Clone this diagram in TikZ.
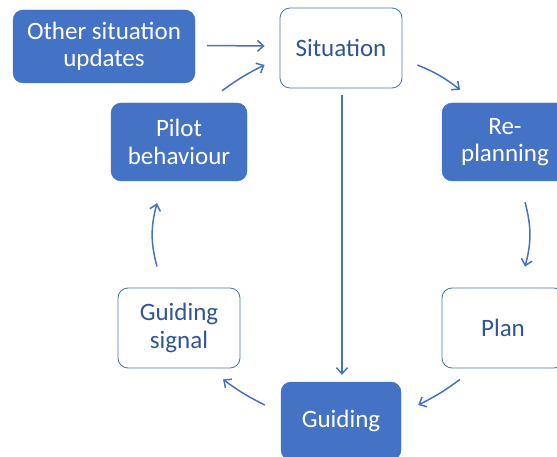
\documentclass[tikz,border=0pt]{standalone}
\usepackage{fontspec}
\setmainfont{Carlito}
\usetikzlibrary{arrows.meta,calc}
\definecolor{mblue}{HTML}{4472C4}
\definecolor{dblue}{HTML}{2F5597}
\tikzset{
  base/.style={rounded corners=10pt, align=center, font=\fontsize{25}{27.5}\selectfont, inner sep=0pt},
  filled/.style={base, fill=mblue, draw=mblue, text=white},
  outlined/.style={base, fill=white, draw=mblue, line width=0.8pt, text=dblue},
  arr/.style={draw=mblue, line width=1.5pt, -{Straight Barb[length=6pt,width=11pt]}}
}
\begin{document}
\begin{tikzpicture}[x=1pt,y=-1pt]
\useasboundingbox (0,0) rectangle (557,457);
\clip (0,0) rectangle (557,457);
\node[filled, minimum width=182pt, minimum height=73pt] (other) at (104,46.5) {Other situation\\updates};
\node[outlined, minimum width=122pt, minimum height=80pt] (sit) at (341,48) {Situation};
\node[filled, minimum width=136pt, minimum height=78pt] (pilot) at (179,142) {Pilot\\behaviour};
\node[filled, minimum width=126pt, minimum height=78pt] (rep) at (505,142) {Re-\\planning};
\node[outlined, minimum width=122pt, minimum height=80pt] (gs) at (179,328) {Guiding\\signal};
\node[outlined, minimum width=122pt, minimum height=80pt] (plan) at (503,328) {Plan};
\node[filled, minimum width=120pt, minimum height=78pt] (guid) at (341,421) {Guiding};

\draw[arr] ($(other.east)+(12,-1)$) -- ($(sit.west)+(-15,-2)$);
\draw[arr] ($(pilot.north)+(43,-12)$) to[bend left=5] ($(sit.west)+(-15,17)$);
\draw[arr] ($(sit.east)+(15,17)$) to[bend left=8] ($(rep.north)+(-45,-13)$);
\draw[arr] ($(rep.south)+(20,21)$) to[bend left=15] ($(plan.north)+(22,-21)$);
\draw[arr] ($(plan.south)+(-43,11)$) to[bend left=5] ($(guid.east)+(17,-16)$);
\draw[arr] ($(sit.south)+(1,7)$) -- ($(guid.north)+(1,-7)$);
\draw[arr] ($(guid.west)+(-16,-16)$) to[bend left=5] ($(gs.south)+(44,11)$);
\draw[arr] ($(gs.north)+(-22,-21)$) to[bend left=15] ($(pilot.south)+(-22,22)$);
\end{tikzpicture}
\end{document}
